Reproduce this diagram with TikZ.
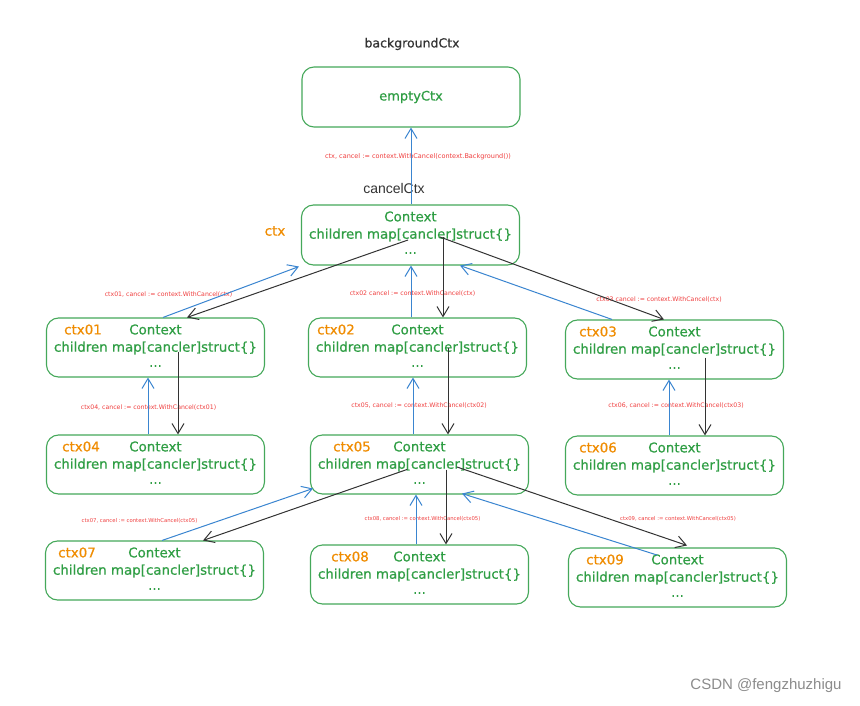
\documentclass[tikz,border=0pt]{standalone}
\usepackage{fontspec}
\setmainfont{DejaVu Sans}
\newfontfamily\libsans{Liberation Sans}
\newfontfamily\gfont[FakeBold=0.5]{DejaVu Sans}
\usetikzlibrary{arrows.meta}
\definecolor{grn}{HTML}{2F9E44}
\definecolor{boxg}{HTML}{45A85A}
\definecolor{org}{HTML}{F08C00}
\definecolor{rd}{HTML}{F03E3E}
\definecolor{blu}{HTML}{3A85D0}
\definecolor{blk}{HTML}{333333}
\newcommand\ctxnode[5]{%
  \node[box] (#1) at (#2,#3) {};
  \node[gtxt] (#1-t) at (#2,#3-18) {Context};
  \node[gtxt] (#1-m) at (#2,#3+0.5) {children map[cancler]struct\{\}};
  \node[gtxt] (#1-d) at (#2,#3+18.5) {...};
  \node[otxt] (#1-l) at (#5,#3-18) {#4};
}
\begin{document}
\begin{tikzpicture}[x=1pt,y=-1pt,
  box/.style={draw=boxg, line width=1.1pt, rounded corners=12pt, minimum width=218pt, minimum height=59pt, inner sep=0pt},
  gtxt/.style={text=grn, font=\gfont\fontsize{13.4}{15}\selectfont, inner sep=1pt},
  otxt/.style={text=org, font=\gfont\fontsize{13.4}{15}\selectfont, inner sep=1pt},
  lbl/.style={text=rd, font=\fontsize{6.2}{7}\selectfont, inner sep=0.5pt},
  slbl/.style={text=rd, font=\fontsize{5.3}{6}\selectfont, inner sep=0.5pt},
  up/.style={draw=blu, line width=1pt, -{Straight Barb[length=10pt,width=12pt,line width=1pt]}},
  dn/.style={draw=blk, line width=1pt, -{Straight Barb[length=10pt,width=12pt,line width=1pt]}}
]
\fill[white] (0,0) rectangle (860,706);
\useasboundingbox (0,0) rectangle (860,706);

% top
\node[text=blk, font=\gfont\fontsize{12.5}{14}\selectfont] (bg) at (412,44) {backgroundCtx};
\node[box, minimum height=60pt] (e0) at (411,97) {};
\node[gtxt, font=\gfont\fontsize{13}{15}\selectfont] (e0-t) at (411,97) {emptyCtx};
\node[text=blk, font=\libsans\fontsize{14}{16}\selectfont] (cc) at (394,188) {cancelCtx};
\node[lbl, font=\fontsize{6.5}{7}\selectfont] (l0) at (418,157) {ctx, cancel := context.WithCancel(context.Background())};

\node[box, minimum height=60pt] (c0) at (410.5,235) {};
\node[gtxt] (c0-t) at (410.5,216.5) {Context};
\node[gtxt] (c0-m) at (410.5,235) {children map[cancler]struct\{\}};
\node[gtxt] (c0-d) at (410.5,253) {...};
\node[otxt] (c0-l) at (275,231) {ctx};

% context boxes
\ctxnode{c01}{155.5}{347.5}{ctx01}{83}
\ctxnode{c02}{417.5}{347.5}{ctx02}{336}
\ctxnode{c03}{674.5}{349.5}{ctx03}{598}
\ctxnode{c04}{155.5}{464.5}{ctx04}{81}
\ctxnode{c05}{419.5}{464.5}{ctx05}{352}
\ctxnode{c06}{674.5}{465.5}{ctx06}{598}
\ctxnode{c07}{154.5}{570.5}{ctx07}{77}
\ctxnode{c08}{419.5}{574.5}{ctx08}{350}
\ctxnode{c09}{677.5}{577.5}{ctx09}{605}

% red labels
\node[lbl] (l1) at (168.5,295) {ctx01, cancel := context.WithCancel(ctx)};
\node[lbl] (l2) at (412.5,294) {ctx02 cancel := context.WithCancel(ctx)};
\node[lbl] (l3) at (659,300) {ctx03 cancel := context.WithCancel(ctx)};
\node[lbl] (l4) at (148.5,408) {ctx04, cancel := context.WithCancel(ctx01)};
\node[lbl] (l5) at (419,406) {ctx05, cancel := context.WithCancel(ctx02)};
\node[lbl] (l6) at (676,406) {ctx06, cancel := context.WithCancel(ctx03)};
\node[slbl] (l7) at (139.5,521) {ctx07, cancel := context.WithCancel(ctx05)};
\node[slbl] (l8) at (422.5,519) {ctx08, cancel := context.WithCancel(ctx05)};
\node[slbl] (l9) at (678,519) {ctx09, cancel := context.WithCancel(ctx05)};

% connectors
\draw[up] ([xshift=0.5pt]c0.north) -- (e0.south);

\draw[dn] ([shift={(-2.5,5)}]c0.center) -- ([shift={(31.5,0)}]c01.north);
\draw[dn] ([shift={(32.5,2)}]c0.center) -- ([shift={(25.5,0)}]c02.north);
\draw[dn] ([shift={(29.5,2)}]c0.center) -- ([shift={(-10.5,0)}]c03.north);
\draw[up] ([shift={(7.5,0)}]c01.north) -- ([shift={(-2,1)}]c0.south west);
\draw[up] ([shift={(-6.5,0)}]c02.north) -- ([shift={(0.5,0)}]c0.south);
\draw[up] ([shift={(-62.5,0)}]c03.north) -- ([shift={(49.5,0)}]c0.south);

\draw[dn] ([shift={(22.5,4)}]c01.center) -- ([shift={(22.5,0)}]c04.north);
\draw[up] ([shift={(-7.5,0)}]c04.north) -- ([shift={(-7.5,0)}]c01.south);
\draw[dn] ([shift={(30.5,0)}]c02.center) -- ([shift={(28.5,0)}]c05.north);
\draw[up] ([shift={(-6.5,0)}]c05.north) -- ([shift={(-4.5,0)}]c02.south);
\draw[dn] ([shift={(30.5,8)}]c03.center) -- ([shift={(30.5,0)}]c06.north);
\draw[up] ([shift={(-5.5,0)}]c06.north) -- ([shift={(-5.5,0)}]c03.south);

\draw[dn] ([shift={(-12.5,5)}]c05.center) -- ([shift={(48.5,0)}]c07.north);
\draw[up] ([shift={(7.5,0)}]c07.north) -- ([shift={(-106.5,24)}]c05.center);
\draw[dn] ([shift={(26.5,5)}]c05.center) -- ([shift={(26.5,0)}]c08.north);
\draw[up] ([shift={(-3.5,0)}]c08.north) -- ([shift={(-3.5,0)}]c05.south);
\draw[dn] ([shift={(37.5,2.5)}]c05.center) -- ([shift={(9.5,-2)}]c09.north);
\draw[up] ([shift={(-20.5,-22.5)}]c09.center) -- ([shift={(42.5,-1)}]c05.south);

% watermark
\node[text=black!45, font=\libsans\fontsize{15}{17}\selectfont] (wm) at (766,686) {CSDN @fengzhuzhigu};
\end{tikzpicture}
\end{document}
